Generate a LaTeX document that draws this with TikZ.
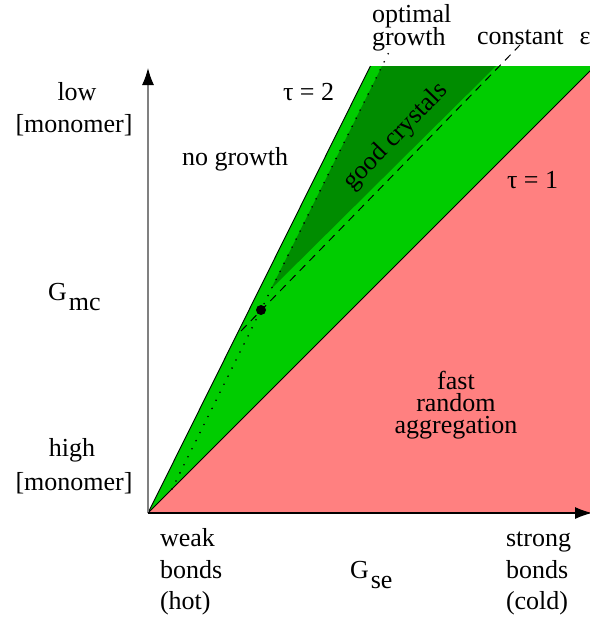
\documentclass[tikz,border=0pt]{standalone}
\usepackage{fontspec}
\setmainfont{Liberation Serif}
\usetikzlibrary{arrows.meta}
\definecolor{lgreen}{RGB}{0,204,0}
\definecolor{dgreen}{RGB}{0,140,0}
\definecolor{pinkfill}{RGB}{255,128,128}
\definecolor{axisgray}{RGB}{128,128,128}
\begin{document}
\begin{tikzpicture}[x=1pt,y=-1pt,
  lbl/.style={font=\fontsize{26pt}{31pt}\selectfont, inner sep=0pt, outer sep=0pt},
  bndline/.style={black, line width=0.9pt},
  dotline/.style={black, line width=1.8pt, line cap=round, dash pattern=on 0pt off 9pt},
  dashline/.style={black, line width=1pt, dash pattern=on 8pt off 6pt},
  yaxis/.style={axisgray, line width=1.3pt, -{Latex[length=17pt,width=12pt,color=black]}},
  xaxis/.style={black, line width=1.1pt, -{Latex[length=17pt,width=12pt]}}]
\useasboundingbox (0,0) rectangle (589,621);
% coordinates
\coordinate (o) at (148,513);
\coordinate (t2top) at (370.4,66);
\coordinate (t1top) at (595,66);
\coordinate (dgtip) at (271,289);
\coordinate (dgl) at (382,66);
\coordinate (dgr) at (496,66);
\coordinate (dotA) at (172,489);
\coordinate (dotB) at (392,46);
\coordinate (dashA) at (241,331);
\coordinate (dashB) at (520,45);
\coordinate (pt) at (261,310);
\coordinate (ytip) at (148,68);
\coordinate (xtip) at (592,513);
% regions
\fill[pinkfill] (o) -- (600,61) -- (600,513) -- cycle;
\fill[lgreen] (o) -- (t2top) -- (t1top) -- cycle;
\fill[dgreen] (dgtip) -- (dgl) -- (dgr) -- cycle;
% boundary lines
\draw[bndline] (o) -- (t2top);
\draw[bndline] (o) -- (t1top);
\draw[dotline] (dotA) -- (dotB);
\draw[dashline] (dashA) -- (dashB);
\fill[black] (pt) circle (5pt);
% axes
\draw[yaxis] (o) -- (ytip);
\draw[xaxis] (o) -- (xtip);
% labels
\node[lbl, anchor=base west] (opt1) at (372,22) {optimal};
\node[lbl, anchor=base west] (opt2) at (372,45) {growth};
\node[lbl, anchor=base west] (ceps) at (477,44) {constant\hspace{16pt}ε};
\node[lbl, anchor=base west] (tau2) at (283,100) {τ = 2};
\node[lbl, anchor=base west] (nog) at (182,165) {no growth};
\node[lbl, anchor=base west] (tau1) at (507,188) {τ = 1};
\node[lbl, rotate=46] (good) at (396,137) {good crystals};
\node[lbl, anchor=base] (f1) at (456,389) {fast};
\node[lbl, anchor=base] (f2) at (456,411) {random};
\node[lbl, anchor=base] (f3) at (456,433) {aggregation};
\node[lbl, anchor=base] (low) at (77,100) {low};
\node[lbl, anchor=base] (mon1) at (74,132) {[monomer]};
\node[lbl, anchor=base west] (gmc) at (48,300) {G\kern2pt\raisebox{-10pt}{mc}};
\node[lbl, anchor=base] (high) at (72,456) {high};
\node[lbl, anchor=base] (mon2) at (74,490) {[monomer]};
\node[lbl, anchor=base west] (w1) at (160,546) {weak};
\node[lbl, anchor=base west] (w2) at (160,578) {bonds};
\node[lbl, anchor=base west] (w3) at (160,609) {(hot)};
\node[lbl, anchor=base west] (gse) at (350,578) {G\kern2pt\raisebox{-10pt}{se}};
\node[lbl, anchor=base west] (s1) at (506,546) {strong};
\node[lbl, anchor=base west] (s2) at (506,578) {bonds};
\node[lbl, anchor=base west] (s3) at (506,609) {(cold)};
\end{tikzpicture}
\end{document}
